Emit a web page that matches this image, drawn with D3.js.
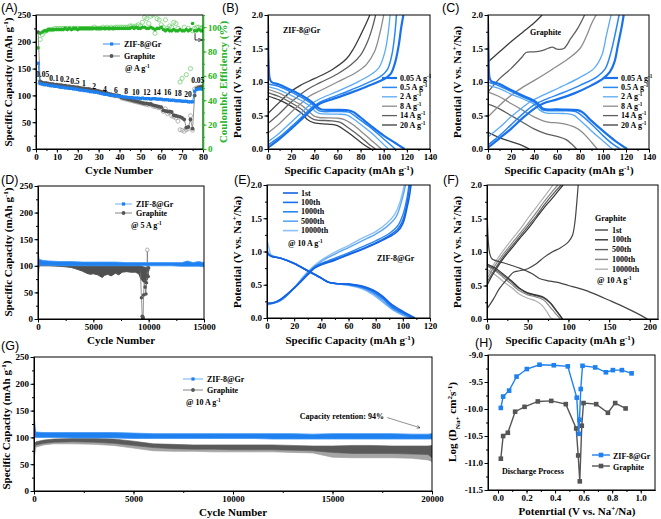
<!DOCTYPE html>
<html><head><meta charset="utf-8">
<script src="https://cdn.jsdelivr.net/npm/d3@7/dist/d3.min.js"></script>
<style>
body{margin:0;background:#fff}
svg{display:block}
text{font-family:"Liberation Serif","Times New Roman",serif;font-weight:bold}
.tick text{font-size:9px}
.plab{font-family:"Liberation Sans",Arial,sans-serif;font-weight:normal;font-size:12.5px}
.ttl{font-size:11px}
.leg{font-size:8px}
</style></head>
<body><svg id="c" width="661" height="519"></svg>
<script>
// ---------------- DATA ----------------
// Panel A: rate performance (cycles 1..80)
const aCycles = d3.range(1, 81);
const aZif = [160,122,121,120,120, 119,118,118,117,117, 116,115,115,114,114, 113,113,112,112,111,
  110,110,109,109,108, 107,107,106,106,105, 104,103,102,102,101, 100,100,99,99,98,
  98,97,97,96,96, 96,95,95,95,94, 95,94,94,94,93, 94,94,93,93,93,
  92,92,92,91,91, 91,90,90,90,89, 89,89,88,88,88, 108,111,112,112,112];
const aGr = [218,126,124,123,123, 122,121,121,120,120, 119,119,118,118,117, 117,116,116,115,115,
  114,113,113,112,112, 111,110,110,109,108, 107,106,105,104,103, 102,101,100,100,99,
  96,95,94,93,92, 91,90,89,88,87, 86,85,85,84,84, 82,81,80,79,78,
  72,71,70,70,69, 63,62,61,60,58, 55,40,41,55,38, 100,113,115,116,116];
const aGrOpen = [125,124,123,122,122, 121,120,120,119,119, 118,118,117,117,116, 116,115,115,114,114,
  113,112,112,111,111, 110,109,109,108,107, 106,105,104,103,102, 101,100,99,99,98,
  95,94,93,92,91, 90,89,88,87,86, 85,84,83,82,83, 80,79,78,77,76,
  70,75,66,68,62, 60,58,52,36,35, 33,36,38,62,35, 112,114,115,116,116];
const aCeZif = [83,95,96,97,97, 98,98,98,98,98, 98,98,98,99,98, 99,98,99,99,98,
  99,99,99,99,99, 99,99,99,99,99, 99,99,99,99,99, 99,99,99,99,99,
  99,99,99,99,99, 100,99,100,99,99, 100,100,99,99,100, 99,98,99,99,100,
  98,97,98,97,97, 98,97,97,98,97, 97,98,97,98,103, 97,97,98,97,97];
const aCeGr = [null,90,94,96,97, 98,98,98,99,99, 99,99,99,99,99, 99,99,99,99,99,
  99,99,99,99,99, 99,99,100,99,99, 99,100,99,100,99, 100,99,100,100,100,
  100,100,100,100,101, 101,100,101,102,101, 104,108,107,103,109, 110,95,107,106,102,
  100,106,99,101,100, 104,103,99,55,58, 100,61,99,66,97, 99,100,100,99,100];
const aRateLabels = ["0.05","0.1","0.2","0.5","1","2","4","6","8","10","12","14","16","18","20","0.05"];
const aRateCycle = [3.2,8.6,13.8,18.6,22.9,27.8,33,38.3,43.2,47.8,53,58,63,68,72.8,77.5];
const aRateValue = [140,132,129,126,122,117,112,109,107,106,106,106,105,104,102,128];

// Panels B, C: charge/discharge at different rates
const rateNames = ["0.05","0.5","2","8","14","20"];
const bDischarge = [
  [[0,1.85],[0.5,1.3],[1.5,1.05],[3,1.0],[10,0.96],[20,0.88],[30,0.79],[38,0.7],[43,0.62],[46,0.59],[60,0.585],[70,0.575],[74,0.55],[80,0.47],[90,0.33],[100,0.2],[110,0.09],[118,0]],
  [[0,0.97],[10,0.93],[20,0.85],[30,0.76],[38,0.67],[42,0.6],[45,0.565],[60,0.56],[70,0.55],[73,0.52],[80,0.43],[90,0.3],[100,0.15],[110,0]],
  [[0,0.93],[10,0.88],[20,0.8],[30,0.71],[37,0.63],[41,0.56],[44,0.53],[60,0.52],[68,0.51],[72,0.47],[80,0.37],[90,0.23],[98,0.1],[104,0]],
  [[0,0.89],[10,0.83],[20,0.74],[30,0.64],[36,0.55],[40,0.49],[44,0.47],[60,0.46],[66,0.44],[72,0.38],[80,0.27],[90,0.12],[98,0]],
  [[0,0.84],[10,0.78],[20,0.69],[30,0.58],[35,0.49],[40,0.44],[55,0.42],[62,0.4],[70,0.31],[80,0.18],[88,0.06],[93,0]],
  [[0,0.79],[10,0.73],[20,0.64],[30,0.52],[34,0.44],[40,0.39],[52,0.37],[60,0.35],[68,0.26],[78,0.13],[85,0.04],[89,0]]
];
const bCharge = [
  [[0,0.02],[10,0.15],[20,0.3],[30,0.46],[40,0.62],[45,0.68],[55,0.74],[70,0.83],[85,0.93],[100,1.04],[106,1.12],[110,1.3],[113,1.55],[115,1.8],[117,2.0]],
  [[0,0.06],[10,0.18],[20,0.33],[30,0.49],[38,0.62],[45,0.7],[55,0.77],[70,0.87],[85,0.98],[97,1.08],[103,1.18],[107,1.4],[109.5,1.7],[111,2.0]],
  [[0,0.11],[10,0.24],[20,0.4],[30,0.56],[37,0.67],[45,0.75],[60,0.86],[75,0.98],[88,1.1],[96,1.22],[101,1.45],[104,1.75],[105.5,2.0]],
  [[0,0.24],[10,0.38],[20,0.55],[28,0.67],[35,0.78],[45,0.87],[60,1.0],[75,1.13],[85,1.26],[92,1.45],[97,1.75],[100,2.0]],
  [[0,0.38],[10,0.53],[20,0.7],[27,0.8],[35,0.9],[45,0.99],[60,1.12],[72,1.26],[80,1.4],[86,1.6],[90,1.8],[93,2.0]],
  [[0,0.53],[10,0.7],[20,0.86],[28,0.95],[40,1.05],[55,1.18],[68,1.35],[74,1.5],[80,1.7],[85,1.88],[88,2.0]]
];
const cDischarge = [
  [[0,1.9],[0.5,1.4],[1.5,1.05],[3,1.01],[10,0.97],[20,0.88],[30,0.8],[40,0.72],[45,0.65],[48,0.6],[60,0.59],[78,0.58],[82,0.55],[90,0.42],[100,0.27],[110,0.13],[121,0]],
  [[0,1.0],[10,0.94],[20,0.86],[30,0.78],[40,0.7],[45,0.62],[48,0.58],[60,0.57],[76,0.56],[80,0.52],[90,0.37],[100,0.2],[108,0.08],[115,0]],
  [[0,0.95],[10,0.9],[20,0.82],[30,0.75],[40,0.67],[45,0.58],[50,0.54],[65,0.53],[74,0.51],[80,0.43],[90,0.27],[100,0.12],[108,0]],
  [[0,0.85],[10,0.78],[20,0.68],[30,0.58],[40,0.48],[50,0.41],[65,0.38],[75,0.33],[82,0.25],[90,0.1],[95,0]],
  [[0,0.67],[10,0.6],[20,0.5],[30,0.4],[40,0.3],[50,0.23],[60,0.19],[68,0.14],[73,0.07],[77,0]],
  [[0,0.25],[10,0.17],[20,0.11],[30,0.05],[36,0]]
];
const cCharge = [
  [[0,0.02],[10,0.16],[20,0.3],[30,0.46],[40,0.6],[48,0.68],[60,0.74],[75,0.83],[90,0.95],[100,1.05],[106,1.15],[110,1.3],[113,1.55],[116,1.8],[118,2.0]],
  [[0,0.06],[10,0.2],[20,0.36],[30,0.52],[40,0.66],[50,0.74],[65,0.84],[80,0.95],[95,1.08],[102,1.2],[107,1.45],[111,1.75],[114,2.0]],
  [[0,0.18],[10,0.32],[20,0.48],[30,0.62],[38,0.72],[50,0.82],[65,0.94],[80,1.07],[92,1.2],[99,1.4],[103,1.7],[107,2.0]],
  [[0,0.48],[10,0.65],[20,0.8],[30,0.92],[40,1.02],[55,1.18],[70,1.35],[80,1.5],[86,1.7],[90,1.87],[94,2.0]],
  [[0,0.85],[10,1.05],[20,1.2],[30,1.38],[33,1.44],[40,1.45],[47,1.47],[52,1.5],[56,1.52],[60,1.49],[66,1.5],[72,1.65],[78,1.8],[84,2.0]],
  [[0,1.3],[10,1.45],[20,1.6],[30,1.74],[40,1.88],[47,2.0]]
];

// Panel D: long cycling @ 5 A/g
const dZifCycles = [1,100,500,1000,2000,3000,4000,5000,6000,7000,8000,9000,10000,11000,12000,13000,13500,14000,14500,15000];
const dZifHi = [128,112,110,109,108,108,107,107,107,107,106,106,106,106,106,106,109,106,108,106];
const dZifLo = [104,100,101,101,100,100,100,100,100,100,100,100,100,100,100,99,99,99,99,98];
const dGrCycles = [0,1000,2000,2500,3000,3300,3600,4000,4400,4700,5000,5400,5800,6000,6300,6600,7000,7300,7600,8000,8400,8800,9100,9300,9500,9700,9900,10000];
const dGrHi = [102,102,102,102,102,102,102,102,102,102,102,102,102,102,102,102,102,102,102,102,102,102,102,100,98,97,98,100];
const dGrLo = [100,100,99,98,97,95,93,90,86,84,85,83,78,82,84,81,86,83,88,89,88,88,85,75,70,68,75,95];
const dGrSpikeCycles = [9250,9350,9420,9460,9500,9540,9600,9680,9750,9800,9850,9880,9920,9960,10000];
const dGrSpikeValues = [90,40,5,1,3,45,72,60,47,68,82,130,92,80,96];
const dGrStartCycles = [1,30,80,150];
const dGrStartValues = [195,80,96,100];

// Panel E / F: selected cycles @ 10 A/g
const eNames = ["1st","100th","1000th","5000th","10000th"];
const eDischarge = [
  [[0,0.98],[3,0.93],[10,0.9],[20,0.82],[30,0.71],[40,0.6],[45,0.54],[50,0.52],[60,0.51],[70,0.48],[78,0.42],[85,0.33],[92,0.2],[100,0.1],[109,0]],
  [[0,0.97],[3,0.93],[10,0.9],[20,0.82],[30,0.71],[40,0.6],[45,0.54],[50,0.52],[60,0.51],[70,0.47],[78,0.41],[85,0.31],[92,0.18],[100,0.08],[108,0]],
  [[0,0.99],[3,0.93],[10,0.9],[20,0.82],[30,0.71],[40,0.6],[45,0.54],[50,0.52],[60,0.5],[70,0.46],[78,0.39],[85,0.29],[92,0.16],[100,0.07],[107,0]],
  [[0,1.06],[2,0.95],[10,0.9],[20,0.82],[30,0.71],[40,0.6],[45,0.54],[50,0.52],[60,0.5],[70,0.45],[78,0.37],[85,0.26],[92,0.14],[100,0.05],[106,0]],
  [[0,1.17],[1.5,1.05],[3,0.95],[10,0.9],[20,0.82],[30,0.71],[40,0.6],[45,0.54],[50,0.52],[60,0.49],[70,0.44],[78,0.35],[85,0.24],[92,0.13],[100,0.04],[105,0]]
];
const eCharge = [
  [[0,0.22],[5,0.23],[10,0.28],[20,0.45],[30,0.65],[35,0.75],[40,0.8],[50,0.87],[60,0.95],[70,1.03],[80,1.12],[90,1.22],[96,1.3],[100,1.42],[103,1.65],[105,1.85],[106,2.0]],
  [[0,0.22],[5,0.23],[10,0.28],[20,0.45],[30,0.66],[35,0.76],[40,0.81],[50,0.88],[60,0.96],[70,1.04],[80,1.13],[90,1.24],[96,1.33],[100,1.47],[103,1.72],[105,2.0]],
  [[0,0.21],[10,0.27],[20,0.45],[30,0.67],[35,0.77],[40,0.82],[50,0.9],[60,0.98],[70,1.07],[80,1.16],[90,1.27],[96,1.38],[100,1.55],[103,1.8],[104.5,2.0]],
  [[0,0.2],[10,0.26],[20,0.45],[30,0.68],[40,0.85],[50,0.96],[60,1.06],[70,1.16],[80,1.26],[88,1.37],[95,1.52],[99,1.75],[102,2.0]],
  [[0,0.2],[10,0.27],[20,0.46],[30,0.7],[40,0.87],[50,0.99],[60,1.09],[70,1.2],[80,1.3],[88,1.42],[94,1.56],[98,1.75],[101,2.0]]
];
const fNames = ["1st","100th","500th","1000th","10000th"];
const fDischarge = [
  [[0,1.9],[1,1.3],[3,1.0],[6,0.9],[20,0.84],[40,0.76],[55,0.68],[65,0.6],[75,0.57],[85,0.55],[100,0.5],[120,0.43],[135,0.36],[150,0.28],[170,0.17],[185,0.08],[197,0]],
  [[0,0.82],[10,0.76],[20,0.67],[30,0.57],[40,0.46],[50,0.39],[60,0.36],[70,0.32],[78,0.24],[85,0.13],[90,0.05],[93,0]],
  [[0,0.8],[10,0.74],[20,0.65],[30,0.55],[40,0.45],[50,0.38],[60,0.35],[70,0.31],[78,0.23],[85,0.12],[90,0.04],[92,0]],
  [[0,0.79],[10,0.72],[20,0.62],[30,0.52],[40,0.42],[50,0.36],[60,0.33],[70,0.28],[76,0.2],[83,0.1],[88,0.03],[90,0]],
  [[0,0.74],[10,0.66],[20,0.56],[30,0.47],[40,0.37],[50,0.31],[60,0.27],[68,0.2],[74,0.1],[78,0.02],[82,0]]
];
const fCharge = [
  [[0,0.15],[8,0.3],[15,0.45],[25,0.6],[33,0.7],[40,0.72],[50,0.75],[60,0.82],[70,0.92],[80,1.0],[90,1.06],[100,1.15],[105,1.25],[108,1.45],[110,1.7],[112,2.0]],
  [[0,0.5],[5,0.62],[10,0.72],[20,0.9],[30,1.05],[40,1.2],[50,1.34],[60,1.5],[70,1.66],[80,1.8],[88,1.92],[93.5,2.0]],
  [[0,0.55],[10,0.75],[20,0.93],[30,1.08],[40,1.23],[50,1.38],[60,1.53],[70,1.7],[80,1.85],[91,2.0]],
  [[0,0.6],[10,0.8],[20,0.97],[30,1.12],[40,1.27],[50,1.42],[60,1.58],[70,1.75],[80,1.9],[87,2.0]],
  [[0,0.65],[10,0.85],[20,1.02],[30,1.18],[40,1.33],[50,1.5],[60,1.66],[70,1.82],[81,2.0]]
];

// Panel G: long cycling @ 10 A/g
const gCycles = [0,100,500,1000,2000,3000,4000,5000,6000,7000,8000,9000,10000,11000,12000,13000,14000,15000,16000,17000,18000,19000,19800,20000];
const gZifHi = [112,110,109,109,109,109,109,108,107,107,107,107,107,107,107,107,106,107,107,107,107,106,106,107];
const gZifLo = [100,100,100,100,99,99,99,98,98,98,98,98,98,98,97,97,97,97,97,97,97,97,97,97];
const gGrHi = [88,92,95,97,98,98,97,93,88,87,86,86,86,86,86,85,84,84,85,85,84,84,84,85];
const gGrLo = [80,86,89,91,92,91,89,85,81,79,78,78,77,77,77,76,75,72,70,70,70,69,68,62];
const gGrOpenLo = [60,82,86,88,88,87,85,80,75,74,74,73,73,73,73,72,71,63,62,62,62,61,58,55];
const gZifStartCycles = [10,40,80];
const gZifStartValues = [141,124,110];
const gGrStartCycles = [5,30,80];
const gGrStartValues = [45,80,88];

// Panel H: GITT diffusion coefficients
const hZifV = [0.02,0.036,0.078,0.13,0.202,0.291,0.391,0.489,0.552,0.566,0.571,0.58,0.592,0.681,0.756,0.805,0.868,0.936];
const hZifD = [-9.98,-9.77,-9.66,-9.40,-9.26,-9.18,-9.19,-9.21,-9.79,-10.46,-10.20,-9.63,-9.20,-9.23,-9.32,-9.28,-9.28,-9.34];
const hGrV = [0.02,0.036,0.069,0.12,0.186,0.279,0.373,0.475,0.548,0.562,0.573,0.587,0.599,0.688,0.77,0.821,0.894];
const hGrD = [-10.92,-10.5,-10.44,-10.05,-9.96,-9.86,-9.85,-9.91,-10.36,-10.86,-11.34,-10.31,-9.89,-9.91,-10.07,-9.89,-9.99];

// ---------------- DRAWING ----------------
const BLUE = "#1f80f0", GREY = "#555", GREEN = "#24b324";
const svg = d3.select("#c");
const defs = svg.append("defs");
defs.append("marker").attr("id","arr").attr("viewBox","0 0 10 10").attr("refX",9).attr("refY",5)
  .attr("markerWidth",6).attr("markerHeight",6).attr("orient","auto-start-reverse")
  .append("path").attr("d","M0,1L10,5L0,9").attr("fill","none").attr("stroke","#000").attr("stroke-width",1.2);

function range(a,b,s){ return d3.range(a, b + s/2, s); }
function panel(o){
  const x = d3.scaleLinear().domain(o.xd).range([o.x0,o.x1]);
  const y = d3.scaleLinear().domain(o.yd).range([o.y1,o.y0]);
  const g = svg.append("g");
  const cid = "clip" + o.name;
  defs.append("clipPath").attr("id",cid).append("rect")
    .attr("x",o.x0).attr("y",o.y0).attr("width",o.x1-o.x0).attr("height",o.y1-o.y0);
  const plot = g.append("g").attr("clip-path",`url(#${cid})`);
  const ax = g.append("g");
  ax.append("g").attr("transform",`translate(0,${o.y1})`)
    .call(d3.axisBottom(x).tickValues(o.xm).tickSize(2).tickSizeOuter(0).tickFormat(""));
  ax.append("g").attr("transform",`translate(0,${o.y1})`)
    .call(d3.axisBottom(x).tickValues(o.xt).tickSize(3.5).tickSizeOuter(0).tickPadding(1.5).tickFormat(o.fx || d3.format("d")));
  ax.append("g").attr("transform",`translate(${o.x0},0)`)
    .call(d3.axisLeft(y).tickValues(o.ym).tickSize(2).tickSizeOuter(0).tickFormat(""));
  ax.append("g").attr("transform",`translate(${o.x0},0)`)
    .call(d3.axisLeft(y).tickValues(o.yt).tickSize(3.5).tickSizeOuter(0).tickPadding(1.5).tickFormat(o.fy || d3.format("d")));
  ax.append("rect").attr("x",o.x0).attr("y",o.y0).attr("width",o.x1-o.x0).attr("height",o.y1-o.y0)
    .attr("fill","none").attr("stroke","#000").attr("stroke-width",1);
  return {x, y, plot, ax, o};
}
function rich(sel, parts){
  parts.forEach(p => {
    const t = sel.append("tspan").text(p[0]);
    if (p[1] === "sup") t.attr("baseline-shift","super").attr("font-size","65%");
    if (p[1] === "sub") t.attr("baseline-shift","sub").attr("font-size","65%");
  });
  return sel;
}
const capParts = [["Specific Capacity (mAh g"],["-1","sup"],[")"]];
const potParts = [["Potential (V vs. Na"],["+","sup"],["/Na)"]];
function xTitle(cx, cy, parts){ rich(svg.append("text").attr("class","ttl").attr("x",cx).attr("y",cy).attr("text-anchor","middle"), parts); }
function yTitle(cx, cy, parts, color){
  const t = svg.append("text").attr("class","ttl").attr("text-anchor","middle")
    .attr("transform",`translate(${cx},${cy}) rotate(-90)`).attr("fill", color || "#000");
  rich(t, parts);
}
function plab(x, y, s){ svg.append("text").attr("class","plab").attr("x",x).attr("y",y).text(s); }
const f1 = d3.format(".1f");
const lineGen = (P) => d3.line().x(d=>P.x(d[0])).y(d=>P.y(d[1])).curve(d3.curveCatmullRom.alpha(0.5));

// ===== Panel A =====
const A = panel({name:"A", x0:36, x1:203, y0:15, y1:149, xd:[0,80], yd:[0,250],
  xt:range(0,80,10), xm:range(0,80,5), yt:range(0,250,50), ym:range(0,250,25)});
const yR = d3.scaleLinear().domain([0,110]).range([149,15]);
const rAx = A.ax.append("g").attr("transform","translate(203,0)").attr("color",GREEN);
rAx.call(d3.axisRight(yR).tickValues(range(0,110,10)).tickSize(2).tickSizeOuter(0).tickFormat(""));
rAx.append("g").call(d3.axisRight(yR).tickValues(range(0,100,20)).tickSize(3.5).tickSizeOuter(0).tickPadding(1.5));
rAx.selectAll("path.domain").attr("stroke-width",1.3);
A.plot.selectAll(".go").data(aCycles).enter().append("circle")
  .attr("cx",c=>A.x(c)).attr("cy",(c,i)=>A.y(aGrOpen[i])).attr("r",2)
  .attr("fill","none").attr("stroke","#999").attr("stroke-width",0.7);
A.plot.append("path").attr("d", d3.line().x(c=>A.x(c)).y((c,i)=>A.y(aGr[i]))(aCycles))
  .attr("fill","none").attr("stroke","#777").attr("stroke-width",0.8);
A.plot.selectAll(".gf").data(aCycles).enter().append("circle")
  .attr("cx",c=>A.x(c)).attr("cy",(c,i)=>A.y(aGr[i])).attr("r",1.9).attr("fill",GREY);
A.plot.append("path").attr("d", d3.line().x(c=>A.x(c)).y((c,i)=>A.y(aZif[i]))(aCycles))
  .attr("fill","none").attr("stroke",BLUE).attr("stroke-width",0.9);
A.plot.selectAll(".zf").data(aCycles).enter().append("rect")
  .attr("x",c=>A.x(c)-1.6).attr("y",(c,i)=>A.y(aZif[i])-1.6).attr("width",3.2).attr("height",3.2).attr("fill",BLUE);
A.plot.selectAll(".ceg").data(aCycles.filter((c,i)=>aCeGr[i]!==null)).enter().append("circle")
  .attr("cx",c=>A.x(c)).attr("cy",c=>yR(aCeGr[c-1])).attr("r",2.1)
  .attr("fill","none").attr("stroke","#66cc66").attr("stroke-width",0.7);
A.plot.selectAll(".cez").data(aCycles).enter().append("circle")
  .attr("cx",c=>A.x(c)).attr("cy",(c,i)=>yR(aCeZif[i])).attr("r",1.8).attr("fill",GREEN);
aRateLabels.forEach((s,i)=>{
  svg.append("text").attr("x",A.x(aRateCycle[i])).attr("y",A.y(aRateValue[i])).attr("dy","0.35em")
    .attr("text-anchor","middle").attr("font-size","7.5px").text(s);
});
svg.append("path").attr("d",`M${A.x(76.2)},${yR(95)}V${yR(89.5)}H${A.x(79.6)}`)
  .attr("fill","none").attr("stroke","#000").attr("stroke-width",0.8).attr("marker-end","url(#arr)");
svg.append("line").attr("x1",103).attr("x2",120).attr("y1",44).attr("y2",44).attr("stroke",BLUE).attr("stroke-width",0.9);
svg.append("rect").attr("x",110).attr("y",42.4).attr("width",3.2).attr("height",3.2).attr("fill",BLUE);
svg.append("line").attr("x1",103).attr("x2",120).attr("y1",56).attr("y2",56).attr("stroke","#777").attr("stroke-width",0.9);
svg.append("circle").attr("cx",111.5).attr("cy",56).attr("r",1.9).attr("fill",GREY);
svg.append("text").attr("class","leg").attr("font-size","8.5px").attr("x",124).attr("y",47).text("ZIF-8@Gr");
svg.append("text").attr("class","leg").attr("font-size","8.5px").attr("x",124).attr("y",59).text("Graphite");
rich(svg.append("text").attr("class","leg").attr("font-size","8.5px").attr("x",125).attr("y",71), [["@ A g"],["-1","sup"]]);
plab(1,12,"(A)");
xTitle(119,174,[["Cycle Number"]]);
yTitle(12,82,capParts);
yTitle(227,82,[["Coulombic Efficiency (%)"]],GREEN);

// ===== Panels B & C =====
const rateColors = ["#1a72ea","#2a88f2","#5aaaf6","#8c8c8c","#5f5f5f","#3c3c3c"];
const rateWidths = [2.2,1.5,1.3,1.3,1.3,1.3];
function gcdPanel(P, dis, chg, colors, widths){
  const L = lineGen(P);
  for (let i = dis.length-1; i >= 0; i--){
    P.plot.append("path").attr("d",L(dis[i])).attr("fill","none").attr("stroke",colors[i]).attr("stroke-width",widths[i]);
    P.plot.append("path").attr("d",L(chg[i])).attr("fill","none").attr("stroke",colors[i]).attr("stroke-width",widths[i]);
  }
}
const B = panel({name:"B", x0:268, x1:430, y0:15, y1:149, xd:[0,140], yd:[0,2],
  xt:range(0,140,20), xm:range(0,140,10), yt:range(0,2,0.5), ym:range(0,2,0.25), fy:f1});
gcdPanel(B, bDischarge, bCharge, rateColors, rateWidths);
const C = panel({name:"C", x0:488, x1:649, y0:15, y1:149, xd:[0,140], yd:[0,2],
  xt:range(0,140,20), xm:range(0,140,10), yt:range(0,2,0.5), ym:range(0,2,0.25), fy:f1});
gcdPanel(C, cDischarge, cCharge, rateColors, rateWidths);
function rateLegend(x0, y0){
  rateNames.forEach((s,i)=>{
    const yy = y0 + i*9.4;
    svg.append("line").attr("x1",x0).attr("x2",x0+15).attr("y1",yy).attr("y2",yy)
      .attr("stroke",rateColors[i]).attr("stroke-width",rateWidths[i]);
    rich(svg.append("text").attr("class","leg").attr("font-size","7.5px").attr("x",x0+18).attr("y",yy+2.6),
      [[s + " A g"],["-1","sup"]]);
  });
}
rateLegend(382, 78);
rateLegend(603, 78);
svg.append("text").attr("class","leg").attr("x",283).attr("y",33).text("ZIF-8@Gr");
svg.append("text").attr("class","leg").attr("x",530).attr("y",35).text("Graphite");
plab(222,12,"(B)");
plab(442,12,"(C)");
xTitle(349,174,capParts);
xTitle(569,174,capParts);
yTitle(241,82,potParts);
yTitle(461,82,potParts);

// ===== Panel D =====
const D = panel({name:"D", x0:38, x1:204, y0:186, y1:319, xd:[0,15000], yd:[0,250],
  xt:range(0,15000,5000), xm:range(0,15000,2500), yt:range(0,250,50), ym:range(0,250,25)});
D.plot.append("path").attr("d", d3.area().x((c)=>D.x(c)).y0((c,i)=>D.y(dGrLo[i])).y1((c,i)=>D.y(dGrHi[i]))(dGrCycles))
  .attr("fill","#505050").attr("stroke","#505050").attr("stroke-width",1);
D.plot.append("path").attr("d", d3.line().x(c=>D.x(c)).y((c,i)=>D.y(dGrStartValues[i]))(dGrStartCycles))
  .attr("fill","none").attr("stroke","#666").attr("stroke-width",0.8);
D.plot.append("path").attr("d", d3.line().x(c=>D.x(c)).y((c,i)=>D.y(dGrSpikeValues[i]))(dGrSpikeCycles))
  .attr("fill","none").attr("stroke","#777").attr("stroke-width",0.8);
D.plot.selectAll(".sp").data(dGrSpikeCycles).enter().append("circle")
  .attr("cx",c=>D.x(c)).attr("cy",(c,i)=>D.y(dGrSpikeValues[i])).attr("r",1.8)
  .attr("fill",(c,i)=>dGrSpikeValues[i]>120?"#fff":"#555").attr("stroke",(c,i)=>dGrSpikeValues[i]>120?"#999":"none").attr("stroke-width",0.8);
D.plot.append("path").attr("d", d3.area().x(c=>D.x(c)).y0((c,i)=>D.y(dZifLo[i])).y1((c,i)=>D.y(dZifHi[i]))(dZifCycles))
  .attr("fill",BLUE).attr("stroke","#3d95f5").attr("stroke-width",0.8);
svg.append("line").attr("x1",115).attr("x2",132).attr("y1",204).attr("y2",204).attr("stroke","#5aa6f6").attr("stroke-width",0.9);
svg.append("rect").attr("x",121.9).attr("y",202.4).attr("width",3.2).attr("height",3.2).attr("fill",BLUE);
svg.append("line").attr("x1",115).attr("x2",132).attr("y1",213).attr("y2",213).attr("stroke","#777").attr("stroke-width",0.9);
svg.append("circle").attr("cx",123.5).attr("cy",213).attr("r",1.9).attr("fill",GREY);
svg.append("text").attr("class","leg").attr("x",136).attr("y",206.5).text("ZIF-8@Gr");
svg.append("text").attr("class","leg").attr("x",136).attr("y",215.5).text("Graphite");
rich(svg.append("text").attr("class","leg").attr("x",131).attr("y",228), [["@ 5 A g"],["-1","sup"]]);
plab(1,184,"(D)");
xTitle(121,344,[["Cycle Number"]]);
yTitle(12,252,capParts);

// ===== Panel E =====
const eColors = ["#1463e4","#1a72ea","#2a86f0","#5ca6f5","#8cc0f8"];
const E = panel({name:"E", x0:267, x1:430, y0:185, y1:318, xd:[0,120], yd:[0,2],
  xt:range(0,120,20), xm:range(0,120,10), yt:range(0,2,0.5), ym:range(0,2,0.25), fy:f1});
gcdPanel(E, eDischarge, eCharge, eColors, [1.6,1.5,1.4,1.4,1.4]);
eNames.forEach((s,i)=>{
  const yy = 193 + i*9.4;
  svg.append("line").attr("x1",283).attr("x2",298).attr("y1",yy).attr("y2",yy).attr("stroke",eColors[i]).attr("stroke-width",1.6);
  svg.append("text").attr("class","leg").attr("font-size","7.5px").attr("x",301).attr("y",yy+2.6).text(s);
});
rich(svg.append("text").attr("class","leg").attr("x",288).attr("y",246), [["@ 10 A g"],["-1","sup"]]);
svg.append("text").attr("class","leg").attr("x",377).attr("y",261).text("ZIF-8@Gr");
plab(234,184,"(E)");
xTitle(350,344,capParts);
yTitle(241,252,potParts);

// ===== Panel F =====
const fColors = ["#444","#333","#5d5d5d","#888","#b0b0b0"];
const F = panel({name:"F", x0:487, x1:658, y0:185, y1:319, xd:[0,210], yd:[0,2],
  xt:range(0,200,50), xm:range(0,200,25), yt:range(0,2,0.5), ym:range(0,2,0.25), fy:f1});
gcdPanel(F, fDischarge, fCharge, fColors, [1.2,1.2,1.2,1.2,1.2]);
svg.append("text").attr("class","leg").attr("x",595).attr("y",221).text("Graphite");
fNames.forEach((s,i)=>{
  const yy = 230 + i*9.8;
  svg.append("line").attr("x1",595).attr("x2",608).attr("y1",yy).attr("y2",yy).attr("stroke",fColors[i]).attr("stroke-width",1.4);
  svg.append("text").attr("class","leg").attr("font-size","7.5px").attr("x",612).attr("y",yy+2.6).text(s);
});
rich(svg.append("text").attr("class","leg").attr("x",597).attr("y",283), [["@ 10 A g"],["-1","sup"]]);
plab(443,184,"(F)");
xTitle(570,344,capParts);
yTitle(461,252,potParts);

// ===== Panel G =====
const G = panel({name:"G", x0:34, x1:432, y0:357, y1:491, xd:[0,20000], yd:[0,250],
  xt:range(0,20000,5000), xm:range(0,20000,2500), yt:range(0,250,50), ym:range(0,250,25)});
G.plot.append("path").attr("d", d3.area().x(c=>G.x(c)).y0((c,i)=>G.y(gGrOpenLo[i])).y1((c,i)=>G.y(gGrLo[i]))(gCycles))
  .attr("fill","#a5a5a5").attr("stroke","#999").attr("stroke-width",0.6);
G.plot.append("path").attr("d", d3.area().x(c=>G.x(c)).y0((c,i)=>G.y(gGrLo[i])).y1((c,i)=>G.y(gGrHi[i]))(gCycles))
  .attr("fill","#5a5a5a").attr("stroke","#5a5a5a").attr("stroke-width",0.6);
G.plot.append("path").attr("d", d3.line().x(c=>G.x(c)).y((c,i)=>G.y(gGrStartValues[i]))(gGrStartCycles))
  .attr("fill","none").attr("stroke","#777").attr("stroke-width",0.8);
G.plot.append("path").attr("d", d3.area().x(c=>G.x(c)).y0((c,i)=>G.y(gZifLo[i])).y1((c,i)=>G.y(gZifHi[i]))(gCycles))
  .attr("fill",BLUE).attr("stroke","#3d95f5").attr("stroke-width",0.8);
G.plot.append("path").attr("d", d3.line().x(c=>G.x(c)).y((c,i)=>G.y(gZifStartValues[i]))(gZifStartCycles))
  .attr("fill","none").attr("stroke",BLUE).attr("stroke-width",1);
svg.append("line").attr("x1",183).attr("x2",203).attr("y1",379).attr("y2",379).attr("stroke","#5aa6f6").attr("stroke-width",0.9);
svg.append("rect").attr("x",191.4).attr("y",377.4).attr("width",3.2).attr("height",3.2).attr("fill",BLUE);
svg.append("line").attr("x1",183).attr("x2",203).attr("y1",390).attr("y2",390).attr("stroke","#777").attr("stroke-width",0.9);
svg.append("circle").attr("cx",193).attr("cy",390).attr("r",1.9).attr("fill",GREY);
svg.append("text").attr("class","leg").attr("x",207).attr("y",382).text("ZIF-8@Gr");
svg.append("text").attr("class","leg").attr("x",207).attr("y",393).text("Graphite");
rich(svg.append("text").attr("class","leg").attr("x",186).attr("y",405), [["@ 10 A g"],["-1","sup"]]);
svg.append("text").attr("class","leg").attr("x",G.x(13350)).attr("y",G.y(140)+3).text("Capacity retention: 94%");
svg.append("line").attr("x1",G.x(17750)).attr("y1",G.y(137)).attr("x2",G.x(19400)).attr("y2",G.y(118))
  .attr("stroke","#444").attr("stroke-width",0.6).attr("marker-end","url(#arr)");
plab(1,350,"(G)");
xTitle(233,516,[["Cycle Number"]]);
yTitle(10,425,capParts);

// ===== Panel H =====
const H = panel({name:"H", x0:488, x1:655, y0:355, y1:490, xd:[-0.07,1.1], yd:[-11.5,-9.0],
  xt:range(0,1,0.2), xm:range(0,1,0.1), yt:range(-11.5,-9,0.5), ym:range(-11.5,-9,0.25), fx:f1, fy:d=>d.toFixed(1)});
const hLine = d3.line().x(d=>H.x(d[0])).y(d=>H.y(d[1]));
const hGr = hGrV.map((v,i)=>[v,hGrD[i]]);
const hZif = hZifV.map((v,i)=>[v,hZifD[i]]);
H.plot.append("path").attr("d",hLine(hGr)).attr("fill","none").attr("stroke","#555").attr("stroke-width",1.4);
H.plot.selectAll(".hg").data(hGr).enter().append("rect").attr("x",d=>H.x(d[0])-2.3).attr("y",d=>H.y(d[1])-2.3)
  .attr("width",4.6).attr("height",4.6).attr("fill","#555");
H.plot.append("path").attr("d",hLine(hZif)).attr("fill","none").attr("stroke",BLUE).attr("stroke-width",1.4);
H.plot.selectAll(".hz").data(hZif).enter().append("rect").attr("x",d=>H.x(d[0])-2.3).attr("y",d=>H.y(d[1])-2.3)
  .attr("width",4.6).attr("height",4.6).attr("fill",BLUE);
svg.append("line").attr("x1",592).attr("x2",610).attr("y1",455).attr("y2",455).attr("stroke",BLUE).attr("stroke-width",1.4);
svg.append("rect").attr("x",598.7).attr("y",452.7).attr("width",4.6).attr("height",4.6).attr("fill",BLUE);
svg.append("line").attr("x1",592).attr("x2",610).attr("y1",466).attr("y2",466).attr("stroke","#555").attr("stroke-width",1.4);
svg.append("rect").attr("x",598.7).attr("y",463.7).attr("width",4.6).attr("height",4.6).attr("fill","#555");
svg.append("text").attr("class","leg").attr("font-size","8.5px").attr("x",613).attr("y",458.5).text("ZIF-8@Gr");
svg.append("text").attr("class","leg").attr("font-size","8.5px").attr("x",613).attr("y",469.5).text("Graphite");
svg.append("text").attr("class","leg").attr("x",502).attr("y",474).text("Discharge Process");
plab(475,347,"(H)");
xTitle(577,515,[["Potenrtial (V vs. Na"],["+","sup"],["/Na)"]]);
yTitle(456,422,[["Log (D"],["Na+","sub"],[" cm"],["2","sup"],["s"],["-1","sup"],[")"]]);
</script></body></html>
